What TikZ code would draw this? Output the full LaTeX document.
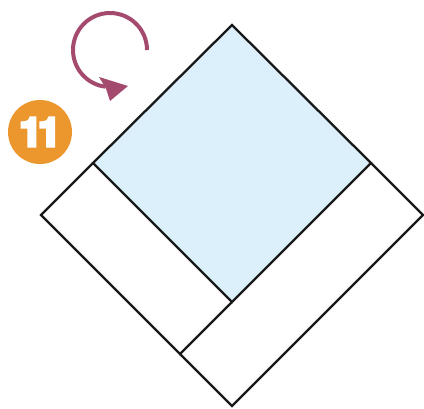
\documentclass[tikz,border=0pt]{standalone}
\usepackage{fontspec}
\setmainfont{TeX Gyre Heros}
\usetikzlibrary{arrows.meta}
\definecolor{paleblue}{HTML}{DCF0FB}
\definecolor{badgecol}{HTML}{EC962E}
\definecolor{turncol}{HTML}{A34A6E}
\newcommand\heavytext[1]{\special{pdf:literal direct 2 Tr 3.6 w 0 j 1 1 1 RG}#1\special{pdf:literal direct 0 Tr}}
\tikzset{
  edge/.style={line width=2.3pt, line join=miter, draw=black!90},
  turnline/.style={line width=4pt, draw=turncol},
  turnhead/.style={fill=turncol},
}
\begin{document}
\begin{tikzpicture}[x=1pt,y=-1pt]
\useasboundingbox (0,0) rectangle (424,409);
% vertices
\coordinate (T) at (232,25);
\coordinate (L) at (41,215);
\coordinate (B) at (232,406);
\coordinate (R) at (423,215);
\coordinate (BL) at (93,163);
\coordinate (BR) at (371,163);
\coordinate (BB) at (232,302);
\coordinate (S) at (180,354);
% blue square
\fill[paleblue] (T) -- (BR) -- (BB) -- (BL) -- cycle;
\draw[edge] (T) -- (BR) -- (BB) -- (BL) -- cycle;
% strips
\draw[edge] (BL) -- (L) -- (S) -- (BB);
\draw[edge] (S) -- (B) -- (R) -- (BR);
% turn arrow
\coordinate (arcstart) at (147,50);
\draw[turnline] (arcstart) arc[start angle=0, end angle=-263, radius=37] coordinate (arcend);
\path[turnhead] (99,77) -- (128,86) -- (110,101) -- (106,88.5) -- cycle;
% badge
\node[circle, fill=badgecol, minimum size=64pt, inner sep=0pt, text=white,
      font=\bfseries\fontsize{39}{39}\selectfont] (badge) at (40,132) {\heavytext{1\kern-3pt 1}};
\end{tikzpicture}
\end{document}
